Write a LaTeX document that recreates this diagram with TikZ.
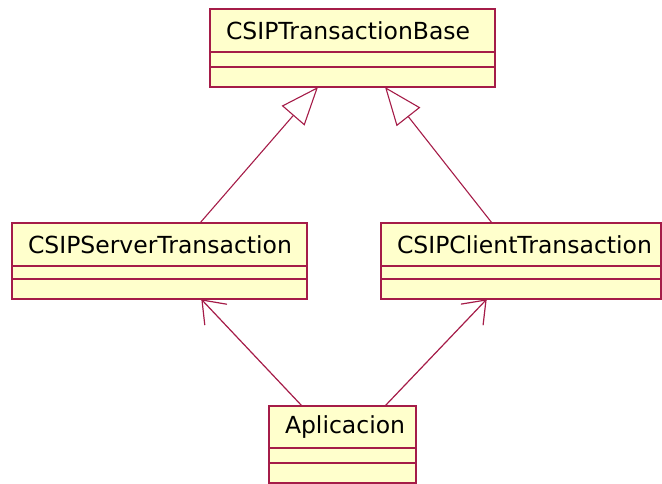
\documentclass[tikz,border=0pt]{standalone}
\usepackage{fontspec}
\setmainfont{DejaVu Sans}
\usepackage{tikz}
\usetikzlibrary{positioning}
\usetikzlibrary{arrows.meta}
\usetikzlibrary{calc}
\definecolor{umlred}{RGB}{165,28,72}
\definecolor{umlfill}{RGB}{255,255,204}
\tikzset{
    cls/.style={draw=umlred, fill=umlfill, line width=1.4pt, outer sep=0pt, inner xsep=16pt, inner ysep=0pt,
        minimum height=43pt, align=left, font=\fontsize{23.5}{26}\selectfont},
    part/.style={draw=umlred, fill=umlfill, line width=1.4pt, outer sep=0pt, inner sep=0pt},
    gen/.style={draw=umlred, line width=1.1pt, -{Triangle[open, fill=white, length=38pt, width=30pt]}},
    uses/.style={draw=umlred, line width=1.2pt, line cap=round}
}

\begin{document}
\begin{tikzpicture}[x=1pt, y=1pt]
    \useasboundingbox (0, 0) rectangle (662, -484);
    % classes
    \node[cls, text width=253pt, anchor=north west](base) at (210, -9){CSIPTransactionBase};
    \node[part, minimum width=285pt, minimum height=15pt, below=0pt of base](baseattr){};
    \node[part, minimum width=285pt, minimum height=20pt, below=0pt of baseattr](baseop){};

    \node[cls, text width=263pt, anchor=north west](server) at (12, -223){CSIPServerTransaction};
    \node[part, minimum width=295pt, minimum height=13pt, below=0pt of server](serverattr){};
    \node[part, minimum width=295pt, minimum height=20pt, below=0pt of serverattr](serverop){};

    \node[cls, text width=248pt, anchor=north west](client) at (381, -223){CSIPClientTransaction};
    \node[part, minimum width=280pt, minimum height=13pt, below=0pt of client](clientattr){};
    \node[part, minimum width=280pt, minimum height=20pt, below=0pt of clientattr](clientop){};

    \node[cls, text width=115pt, minimum height=42pt, anchor=north west](app) at (269, -406){Aplicacion};
    \node[part, minimum width=147pt, minimum height=15pt, below=0pt of app](appattr){};
    \node[part, minimum width=147pt, minimum height=20pt, below=0pt of appattr](appop){};

    % inheritance
    \draw[gen]([xshift=40.5pt]server.north)--([xshift=-34.5pt]baseop.south);
    \draw[gen]([xshift=-29pt]client.north)--([xshift=32.5pt]baseop.south);
    % dependencies
    \coordinate (s1) at ([xshift=-40.5pt]app.north);
    \coordinate (t1) at ([xshift=42.5pt, yshift=-1pt]serverop.south);
    \coordinate (s2) at ([xshift=42.5pt]app.north);
    \coordinate (t2) at ([xshift=-35pt, yshift=-1pt]clientop.south);
    \draw[uses](s1)--(t1);
    \draw[uses]($(t1)!25pt!37:(s1)$)--(t1)--($(t1)!25pt!-37:(s1)$);
    \draw[uses](s2)--(t2);
    \draw[uses]($(t2)!25pt!37:(s2)$)--(t2)--($(t2)!25pt!-37:(s2)$);
\end{tikzpicture}
\end{document}
